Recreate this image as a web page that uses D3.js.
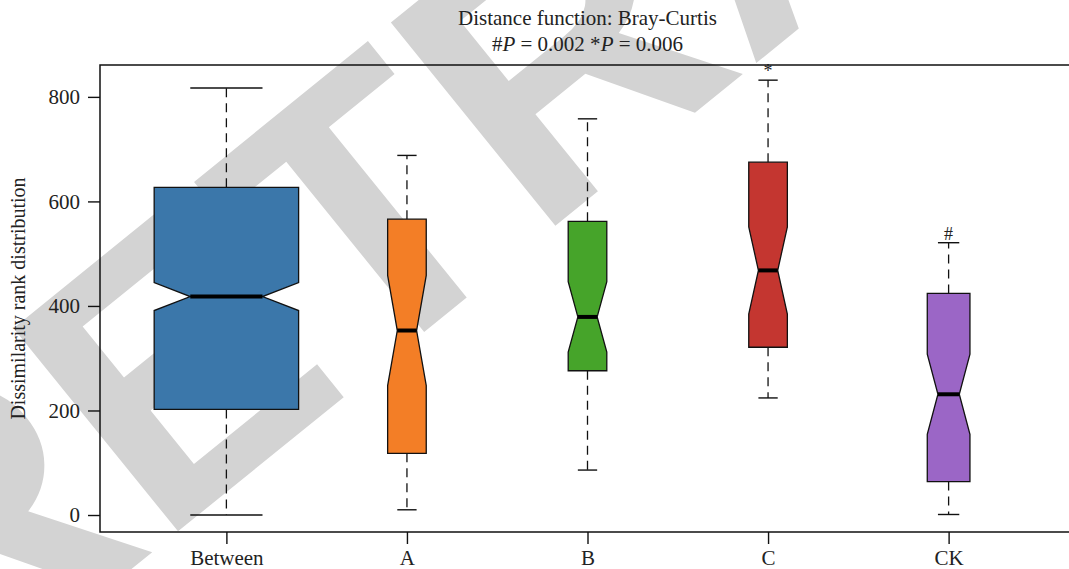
<!DOCTYPE html>
<html>
<head>
<meta charset="utf-8">
<script src="https://cdnjs.cloudflare.com/ajax/libs/d3/7.8.5/d3.min.js"></script>
<style>
	body { margin: 0; background: white; }
	svg { display: block; }
	text { font-family: "Liberation Serif", "Times New Roman", serif; fill: #222; }
</style>
</head>
<body>
<div class="chart"></div>
<script>
// Notched boxplot, Bray-Curtis dissimilarity ranks

var w = 1069,
	h = 569;

// box stats
var categories = ["Between", "A", "B", "C", "CK"];
var whiskerLow = [0, 10, 86, 224, 1];
var q1 = [202, 118, 276, 321, 64];
var medians = [418, 353, 379, 468, 231];
var q3 = [627, 566, 562, 675, 424];
var whiskerHigh = [817, 688, 758, 832, 521];
var counts = [630, 45, 45, 45, 55]; // pairs per group (varwidth + notches)
var marks = ["", "", "", "*", "#"];
var colors = ["#3b77aa", "#f37e26", "#46a42a", "#c43630", "#9b66c6"];
var yTicks = [0, 200, 400, 600, 800];

var margin = { left: 100, right: -6, top: 65, bottom: 37 };

var svg = d3.select('.chart').append('svg')
			.attr('width', w)
			.attr('height', h);

// watermark goes under everything
svg.append('text')
	.attr('transform', 'translate(-55,720) rotate(-39)')
	.style('font-family', '"Liberation Sans", Arial, sans-serif')
	.style('font-weight', 'bold')
	.style('font-size', '380px')
	.style('fill', '#d3d3d3')
	.text('RETRACTED');

var x = d3.scalePoint()
			.domain(categories)
			.range([margin.left, w - margin.right])
			.padding(0.7);

var y = d3.scaleLinear()
			.domain([-32.5, 861])
			.range([h - margin.bottom, margin.top]);

var maxRoot = d3.max(counts, function(d) { return Math.sqrt(d); });

var data = categories.map(function(c, i) {
	var iqr = q3[i] - q1[i];
	var notch = 1.58 * iqr / Math.sqrt(counts[i]);
	return {
		name: c,
		lo: whiskerLow[i], q1: q1[i], med: medians[i], q3: q3[i], hi: whiskerHigh[i],
		nLo: medians[i] - notch, nHi: medians[i] + notch,
		half: 0.8 * x.step() * Math.sqrt(counts[i]) / maxRoot / 2,
		mark: marks[i],
		color: colors[i]
	};
});

var g = svg.selectAll('g.box')
			.data(data)
		.enter()
		.append('g')
			.attr('class', 'box')
			.attr('transform', function(d) { return 'translate(' + x(d.name) + ',0)'; });

// dashed whiskers
g.append('line')
	.attr('x1', 0).attr('x2', 0)
	.attr('y1', function(d) { return y(d.q3); })
	.attr('y2', function(d) { return y(d.hi); })
	.attr('stroke', '#111')
	.attr('stroke-width', 1.3)
	.attr('stroke-dasharray', '9,6');

g.append('line')
	.attr('x1', 0).attr('x2', 0)
	.attr('y1', function(d) { return y(d.q1); })
	.attr('y2', function(d) { return y(d.lo); })
	.attr('stroke', '#111')
	.attr('stroke-width', 1.3)
	.attr('stroke-dasharray', '9,6');

// staples
g.selectAll('line.cap')
		.data(function(d) { return [[d.hi, d.half], [d.lo, d.half]]; })
	.enter().append('line')
	.attr('class', 'cap')
	.attr('x1', function(d) { return -d[1] / 2; })
	.attr('x2', function(d) { return d[1] / 2; })
	.attr('y1', function(d) { return y(d[0]); })
	.attr('y2', function(d) { return y(d[0]); })
	.attr('stroke', '#111')
	.attr('stroke-width', 1.4);

// notched box
g.append('path')
	.attr('d', function(d) {
		var L = -d.half, R = d.half, k = d.half / 2;
		return 'M' + [L, y(d.q3)] +
			'L' + [R, y(d.q3)] +
			'L' + [R, y(d.nHi)] +
			'L' + [R - k, y(d.med)] +
			'L' + [R, y(d.nLo)] +
			'L' + [R, y(d.q1)] +
			'L' + [L, y(d.q1)] +
			'L' + [L, y(d.nLo)] +
			'L' + [L + k, y(d.med)] +
			'L' + [L, y(d.nHi)] + 'Z';
	})
	.attr('fill', function(d) { return d.color; })
	.attr('stroke', '#111')
	.attr('stroke-width', 1.3)
	.attr('stroke-linejoin', 'miter');

// median
g.append('line')
	.attr('x1', function(d) { return -d.half / 2; })
	.attr('x2', function(d) { return d.half / 2; })
	.attr('y1', function(d) { return y(d.med); })
	.attr('y2', function(d) { return y(d.med); })
	.attr('stroke', '#000')
	.attr('stroke-width', 4);

// significance marks
g.append('text')
	.attr('y', function(d) { return y(d.hi) - 3; })
	.attr('text-anchor', 'middle')
	.style('font-size', '18px')
	.text(function(d) { return d.mark; });

// frame (right side runs past the edge)
svg.append('path')
	.attr('d', 'M' + [w + 10, margin.top] + 'H' + margin.left + 'V' + (h - margin.bottom) + 'H' + (w + 10))
	.attr('fill', 'none')
	.attr('stroke', '#111')
	.attr('stroke-width', 1.5);

// axes
var yAxis = d3.axisLeft(y)
				.tickValues(yTicks)
				.tickSize(12)
				.tickPadding(8);

svg.append('g')
	.attr('transform', 'translate(' + margin.left + ',0)')
	.call(yAxis)
	.call(function(a) {
		a.select('.domain').remove();
		a.selectAll('line').attr('stroke', '#111').attr('stroke-width', 1.4);
		a.selectAll('text').style('font-size', '21px').style('font-family', '"Liberation Serif", serif').attr('fill', '#222');
	});

var xAxis = d3.axisBottom(x)
				.tickSize(12)
				.tickPadding(6);

svg.append('g')
	.attr('transform', 'translate(0,' + (h - margin.bottom) + ')')
	.call(xAxis)
	.call(function(a) {
		a.select('.domain').remove();
		a.selectAll('line').attr('stroke', '#111').attr('stroke-width', 1.4);
		a.selectAll('text').style('font-size', '21px').style('font-family', '"Liberation Serif", serif').attr('fill', '#222');
	});

// y title
svg.append('text')
	.attr('transform', 'translate(25,' + ((margin.top + h - margin.bottom) / 2) + ') rotate(-90)')
	.attr('text-anchor', 'middle')
	.style('font-size', '20px')
	.text('Dissimilarity rank distribution');

// title
var cx = (margin.left + w + 6) / 2;
svg.append('text')
	.attr('x', cx)
	.attr('y', 25)
	.attr('text-anchor', 'middle')
	.style('font-size', '21px')
	.text('Distance function: Bray-Curtis');

var sub = svg.append('text')
	.attr('x', cx)
	.attr('y', 51)
	.attr('text-anchor', 'middle')
	.style('font-size', '21px');
sub.append('tspan').text('#');
sub.append('tspan').style('font-style', 'italic').text('P');
sub.append('tspan').text(' = 0.002 *');
sub.append('tspan').style('font-style', 'italic').text('P');
sub.append('tspan').text(' = 0.006');
</script>
</body>
</html>
